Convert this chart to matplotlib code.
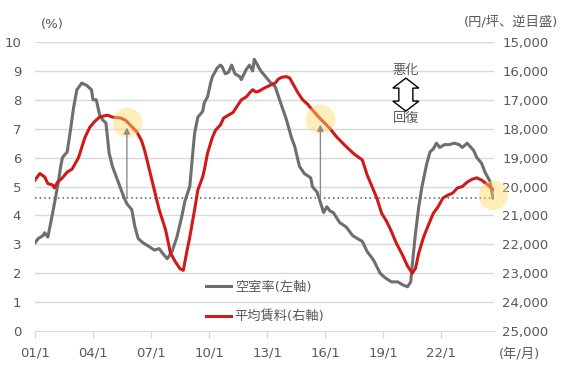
import numpy as np
import matplotlib
matplotlib.use("Agg")
import matplotlib.pyplot as plt
from matplotlib import transforms
from matplotlib.patches import Polygon

plt.rcParams['font.family'] = ['DejaVu Sans', 'Noto Sans CJK JP']

# vacancy rate (%), left axis
vac_dates = ['2001-01', '2001-03', '2001-06', '2001-07', '2001-09', '2001-12', '2002-03', '2002-05',
             '2002-06', '2002-09', '2002-11', '2003-01', '2003-03', '2003-06', '2003-09', '2003-12',
             '2004-01', '2004-03', '2004-05', '2004-07', '2004-09', '2004-11', '2005-01', '2005-05',
             '2005-08', '2005-10', '2006-01', '2006-03', '2006-05', '2006-08', '2006-11', '2007-03',
             '2007-06', '2007-08', '2007-11', '2008-02', '2008-05', '2008-08', '2008-10', '2009-01',
             '2009-03', '2009-04', '2009-06', '2009-09', '2009-10', '2009-12', '2010-02', '2010-03',
             '2010-06', '2010-08', '2010-09', '2010-11', '2011-01', '2011-03', '2011-05', '2011-08',
             '2011-09', '2011-12', '2012-02', '2012-04', '2012-05', '2012-07', '2012-09', '2012-12',
             '2013-03', '2013-06', '2013-09', '2014-01', '2014-04', '2014-06', '2014-09', '2014-12',
             '2015-04', '2015-05', '2015-08', '2015-10', '2015-12', '2016-02', '2016-04', '2016-06',
             '2016-10', '2017-02', '2017-06', '2017-12', '2018-03', '2018-07', '2018-11', '2019-02',
             '2019-06', '2019-10', '2020-01', '2020-04', '2020-06', '2020-07', '2020-09', '2020-11',
             '2021-01', '2021-04', '2021-06', '2021-08', '2021-10', '2021-12', '2022-03', '2022-06',
             '2022-09', '2022-12', '2023-02', '2023-05', '2023-09', '2023-11', '2024-02', '2024-04',
             '2024-07', '2024-09']
vacancy = [3.05, 3.2, 3.3, 3.4, 3.25, 4.1, 5.0, 5.7,
           6.0, 6.2, 6.95, 7.75, 8.35, 8.58, 8.5, 8.35,
           8.0, 8.0, 7.5, 7.3, 7.2, 6.15, 5.7, 5.1,
           4.65, 4.4, 4.2, 3.6, 3.2, 3.05, 2.95, 2.8,
           2.85, 2.7, 2.5, 2.75, 3.25, 3.95, 4.5, 5.0,
           6.25, 6.85, 7.4, 7.6, 7.9, 8.1, 8.6, 8.8,
           9.1, 9.2, 9.15, 8.9, 8.95, 9.2, 8.9, 8.8,
           8.7, 9.05, 9.2, 9.0, 9.4, 9.2, 9.0, 8.8,
           8.6, 8.45, 7.95, 7.3, 6.7, 6.4, 5.7, 5.45,
           5.3, 5.0, 4.8, 4.45, 4.1, 4.3, 4.15, 4.1,
           3.75, 3.6, 3.3, 3.1, 2.75, 2.45, 2.0, 1.85,
           1.7, 1.7, 1.6, 1.53, 1.7, 2.3, 3.4, 4.3,
           5.0, 5.8, 6.2, 6.3, 6.5, 6.35, 6.45, 6.45,
           6.5, 6.45, 6.35, 6.5, 6.25, 6.0, 5.8, 5.5,
           5.2, 4.6]

# average rent (yen/tsubo), right axis (reversed)
rent_dates = ['2001-01', '2001-04', '2001-07', '2001-09', '2001-12', '2002-01', '2002-03', '2002-06',
              '2002-09', '2002-12', '2003-02', '2003-04', '2003-06', '2003-08', '2003-11', '2004-02',
              '2004-05', '2004-10', '2005-01', '2005-06', '2005-09', '2005-12', '2006-04', '2006-07',
              '2006-09', '2006-12', '2007-03', '2007-06', '2007-08', '2007-10', '2008-01', '2008-04',
              '2008-07', '2008-09', '2008-11', '2009-01', '2009-04', '2009-06', '2009-09', '2009-10',
              '2009-12', '2010-03', '2010-05', '2010-08', '2010-10', '2011-01', '2011-04', '2011-06',
              '2011-09', '2011-12', '2012-02', '2012-04', '2012-06', '2012-08', '2012-11', '2013-02',
              '2013-06', '2013-08', '2013-10', '2014-01', '2014-03', '2014-05', '2014-08', '2014-11',
              '2015-02', '2015-05', '2015-09', '2015-12', '2016-04', '2016-08', '2017-02', '2017-07',
              '2017-12', '2018-03', '2018-06', '2018-09', '2018-12', '2019-03', '2019-06', '2019-09',
              '2020-01', '2020-04', '2020-07', '2020-09', '2020-11', '2021-02', '2021-05', '2021-08',
              '2021-11', '2022-02', '2022-05', '2022-08', '2022-11', '2023-02', '2023-05', '2023-08',
              '2023-11', '2024-02', '2024-06', '2024-09']
rent = [19780, 19550, 19670, 19900, 19950, 20050, 19850, 19700,
        19500, 19400, 19200, 19000, 18650, 18300, 17950, 17750,
        17600, 17530, 17600, 17630, 17700, 17870, 18100, 18400,
        18750, 19430, 20120, 20800, 21150, 21500, 22300, 22600,
        22850, 22900, 22300, 21750, 20800, 20120, 19670, 19430,
        18850, 18300, 18050, 17870, 17630, 17530, 17430, 17250,
        17000, 16900, 16770, 16650, 16730, 16700, 16600, 16520,
        16420, 16280, 16220, 16200, 16250, 16450, 16750, 17000,
        17150, 17350, 17600, 17770, 18000, 18280, 18620, 18880,
        19080, 19600, 20000, 20400, 20930, 21200, 21550, 21950,
        22380, 22750, 23000, 22830, 22300, 21750, 21330, 20930,
        20700, 20400, 20300, 20230, 20050, 20000, 19850, 19750,
        19700, 19780, 19950, 20100]

# dates where vacancy was at today's level
mark_dates = ['2005-10', '2015-10']

tick_years = [2001, 2004, 2007, 2010, 2013, 2016, 2019, 2022]
vac_ticks = list(range(0, 11))
rent_ticks = list(range(15000, 25001, 1000))


def to_year(s):
    y, m = s.split('-')
    return int(y) + (int(m) - 1) / 12


vx = np.array([to_year(d) for d in vac_dates])
rx = np.array([to_year(d) for d in rent_dates])
mx = np.array([to_year(d) for d in mark_dates])

GRAY = '#6E6E6E'
RED = '#CF1A1A'
TXT = '#595959'

fig = plt.figure(figsize=(5.67, 3.78), dpi=100)
ax = fig.add_axes([0.0617, 0.1243, 0.8095, 0.7646])
ax2 = ax.twinx()

for v in vac_ticks[1:]:
    ax.axhline(v, color='#D9D9D9', lw=1.0, zorder=0)

ax.plot(vx, vacancy, color=GRAY, lw=2.2, label='空室率(左軸)', zorder=3)
ax2.plot(rx, rent, color=RED, lw=2.2, label='平均賃料(右軸)', zorder=3)

# current vacancy level
now = vacancy[-1]
ax.axhline(now, color=TXT, lw=1.1, ls=(0, (1, 2)), zorder=2)

# highlight circles (on top of the rent line)
circ_y = list(np.interp(mx, rx, rent)) + [25000 - 1000 * (now + 0.1)]
circ_x = list(mx) + [vx[-1]]
ax2.scatter(circ_x, circ_y, s=450, color='#FFD966', alpha=0.45, lw=0, zorder=4, clip_on=False)

for x in mx:
    top = np.interp(x, rx, rent) + 200
    ax2.annotate('', xy=(x, top), xytext=(x, 25000 - 1000 * now),
                 arrowprops=dict(arrowstyle='-|>', color='#8C8C8C', lw=1.0,
                                 mutation_scale=9, shrinkA=0, shrinkB=0), zorder=5)

ax.set_xlim(2001, 2024.72)
ax.set_ylim(0, 10)
ax2.set_ylim(25000, 15000)

ax.set_xticks(tick_years)
ax.set_xticklabels([f'{y % 100:02d}/1' for y in tick_years])
ax.set_yticks(vac_ticks)
ax2.set_yticks(rent_ticks)
ax2.set_yticklabels([f'{r:,}' for r in rent_ticks])

for a in (ax, ax2):
    for s in a.spines.values():
        s.set_visible(False)
ax.spines['bottom'].set_visible(True)
ax.spines['bottom'].set_color('#D9D9D9')
ax.tick_params(axis='x', colors='#D9D9D9', labelcolor=TXT, length=5, width=1, labelsize=9.5, pad=6)
ax.tick_params(axis='y', length=0, labelcolor=TXT, labelsize=9.5, pad=10)
ax2.tick_params(axis='y', length=0, labelcolor=TXT, labelsize=9.5, pad=6)

fig.text(0.093, 0.934, '(%)', ha='center', va='center', color=TXT, fontsize=9.5)
fig.text(0.985, 0.942, '(円/坪、逆目盛)', ha='right', va='center', color=TXT, fontsize=9.5)
fig.text(0.917, 0.062, '(年/月)', ha='center', va='center', color=TXT, fontsize=9.5)

# worse / better double arrow
px = 1 / fig.dpi
shape = np.array([[0, 16.5], [13, 6.5], [7, 6.5], [7, -6.5], [13, -6.5], [0, -16.5],
                  [-13, -6.5], [-7, -6.5], [-7, 6.5], [-13, 6.5]]) * px
tr = fig.dpi_scale_trans + transforms.ScaledTranslation(0.808, 0.818, ax.transAxes)
fig.patches.append(Polygon(shape, closed=True, facecolor='white', edgecolor='black',
                           lw=1.0, transform=tr))
ax.text(0.808, 0.903, '悪化', transform=ax.transAxes, ha='center', va='center',
        color=TXT, fontsize=9.5)
ax.text(0.808, 0.734, '回復', transform=ax.transAxes, ha='center', va='center',
        color=TXT, fontsize=9.5)

h1, l1 = ax.get_legend_handles_labels()
h2, l2 = ax2.get_legend_handles_labels()
leg = ax2.legend(h1 + h2, l1 + l2, loc='upper left', bbox_to_anchor=(0.372, 0.174),
                 frameon=False, fontsize=9.5, handlelength=1.9, handletextpad=0.3,
                 labelspacing=1.25, borderpad=0, borderaxespad=0)
for t in leg.get_texts():
    t.set_color(TXT)

fig.savefig('out.png', dpi=100)
